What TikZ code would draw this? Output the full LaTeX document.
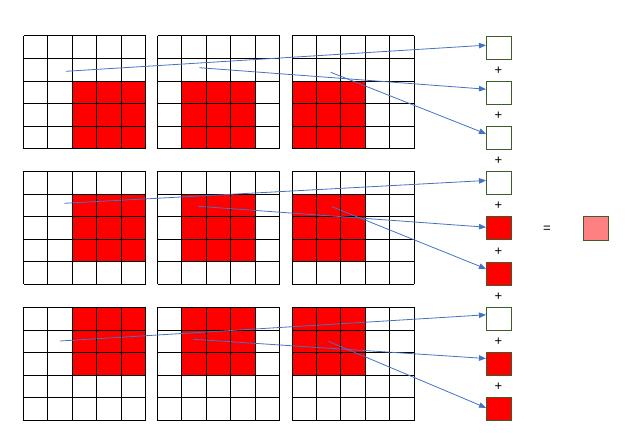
\documentclass[tikz,border=0pt]{standalone}
\usepackage{fontspec}
\setmainfont{Liberation Sans}
\usetikzlibrary{arrows.meta}
\definecolor{arrowblue}{HTML}{4472C4}
\definecolor{boxgreen}{HTML}{3B5E2B}
\definecolor{cellred}{HTML}{FF0000}
\definecolor{sumpink}{HTML}{FF8080}
\begin{document}
\begin{tikzpicture}[x=1pt,y=-1pt,
  gridline/.style={black,line width=1pt},
  conn/.style={arrowblue,line width=0.8pt,-{Triangle[length=7pt,width=5.5pt]}},
  outbox/.style={draw=boxgreen,line width=1pt,minimum width=25pt,minimum height=23pt,inner sep=0pt,anchor=north west},
  whitebox/.style={outbox,fill=white},
  redbox/.style={outbox,fill=cellred},
  sym/.style={inner sep=0pt,font=\fontsize{13}{15}\selectfont}]
\useasboundingbox (0,0) rectangle (640,438);
% grids
\foreach \r/\yy in {0/36,1/171.5,2/307.5}{
  \foreach \g/\xx in {0/23.5,1/157.5,2/292}{
    \fill[cellred] ({\xx+(2-\g)*24.4},{\yy+(2-\r)*22.6}) rectangle ++(73.2,67.8);
    \foreach \i in {0,...,5}{
      \draw[gridline] ({\xx+\i*24.4},\yy) -- ++(0,113);
      \draw[gridline] (\xx,{\yy+\i*22.6}) -- ++(122,0);
    }
  }
}
% output boxes
\node[whitebox] (b1) at (486,36) {};
\node[whitebox] (b2) at (486,81.3) {};
\node[whitebox] (b3) at (486,126.3) {};
\node[whitebox] (b4) at (486,171.3) {};
\node[redbox] (b5) at (486,216.3) {};
\node[redbox] (b6) at (486,262.3) {};
\node[whitebox] (b7) at (486,307.3) {};
\node[redbox] (b8) at (486,352.3) {};
\node[redbox] (b9) at (486,397.3) {};
% plus signs
\node[sym] (p1) at (498.5,70.7) {+};
\node[sym] (p2) at (498.5,116) {+};
\node[sym] (p3) at (498.5,160.7) {+};
\node[sym] (p4) at (498.5,205.7) {+};
\node[sym] (p5) at (498.5,251.7) {+};
\node[sym] (p6) at (498.5,296.7) {+};
\node[sym] (p7) at (498.5,342) {+};
\node[sym] (p8) at (498.5,387) {+};
% result
\node[sym] (eq) at (547,229) {=};
\node[outbox,fill=sumpink,minimum height=24pt] (res) at (583.3,216.3) {};
% start points
\coordinate (a1) at (66,71.3);
\coordinate (a2) at (199.3,67.7);
\coordinate (a3) at (330.7,72.3);
\coordinate (a4) at (64.3,203.3);
\coordinate (a5) at (198.3,206.3);
\coordinate (a6) at (332,206.7);
\coordinate (a7) at (60,341);
\coordinate (a8) at (193.3,339.3);
\coordinate (a9) at (328.3,341.3);
% connectors
\draw[conn] (a1) -- ([yshift=2.8pt]b1.west);
\draw[conn] (a2) -- ([yshift=4.1pt]b2.west);
\draw[conn] (a3) -- ([yshift=4.5pt]b3.west);
\draw[conn] (a4) -- ([yshift=2.8pt]b4.west);
\draw[conn] (a5) -- ([yshift=1.1pt]b5.west);
\draw[conn] (a6) -- ([yshift=5.5pt]b6.west);
\draw[conn] (a7) -- ([yshift=4.5pt]b7.west);
\draw[conn] (a8) -- ([yshift=5.8pt]b8.west);
\draw[conn] (a9) -- ([yshift=1.5pt]b9.west);
\end{tikzpicture}
\end{document}
